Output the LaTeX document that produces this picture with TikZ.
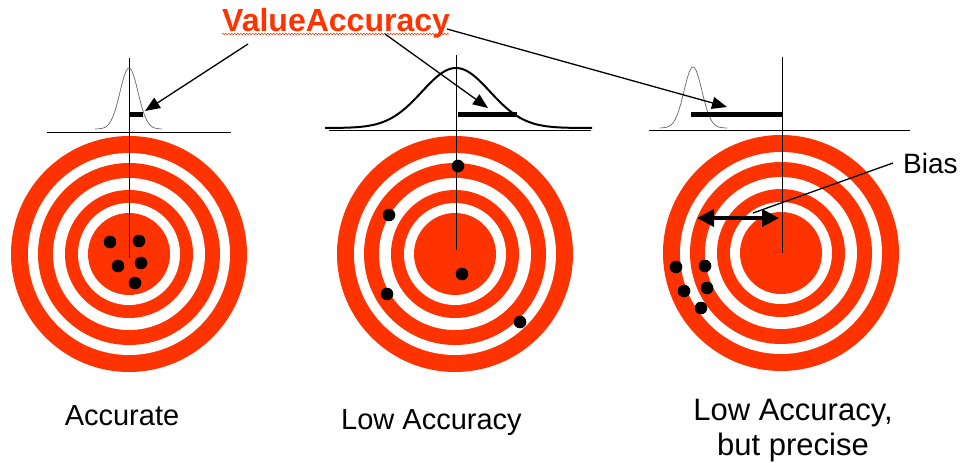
\documentclass[tikz,border=0pt]{standalone}
\usepackage{fontspec}
\setmainfont{Liberation Sans}
\usetikzlibrary{arrows.meta, decorations.pathmorphing}
\definecolor{targetred}{HTML}{FF3300}

% one target: rings from outside to inside
\newcommand{\drawtarget}[2]{%
  \foreach \r/\c in {118/targetred,101/white,91/targetred,76/white,64/targetred,51/white,41/targetred}
    \fill[\c] (#1,#2) circle[radius=\r];}

\tikzset{
  caption/.style={font=\fontsize{29}{35}\selectfont, inner sep=0pt},
  pointer/.style={line width=1.3pt, -{Triangle[length=15pt,width=12pt]}},
  errbar/.style={line width=5pt},
  hit/.style={fill=black},
  thincurve/.style={gray!80!black, line width=0.7pt},
}

\begin{document}
\begin{tikzpicture}[x=1pt, y=-1pt]
  \useasboundingbox (0,0) rectangle (962,463);

  % Targets
  \drawtarget{129}{254}
  \drawtarget{455}{254}
  \drawtarget{781}{253}

  % Axes and centre lines
  \draw[line width=0.8pt] (47,132) -- (231,132);
  \draw[line width=0.8pt] (329,130) -- (591,130);
  \draw[line width=0.8pt] (649,130) -- (910,130);
  \draw[line width=0.8pt] (129,58) -- (129,258);
  \draw[line width=0.8pt] (456,55) -- (456,250);
  \draw[line width=0.8pt] (782,57) -- (782,253);

  % Distributions
  \draw[thincurve] plot[domain=95:162, samples=80] (\x, {129-61*exp(-0.5*((\x-129)/9)^2)});
  \draw[line width=2pt] plot[domain=325:592, samples=120] (\x, {128-60*exp(-0.5*((\x-456)/34)^2)});
  \draw[thincurve] plot[domain=660:727, samples=80] (\x, {128-61*exp(-0.5*((\x-693)/9)^2)});

  % Bars
  \coordinate (t1) at (145,111);
  \coordinate (t2) at (488,108);
  \coordinate (t3) at (727,107);
  \draw[errbar] (129,114) -- (143,114);
  \draw[errbar] (458,114) -- (517,114);
  \draw[errbar] (691,114) -- (782,114);

  % Hits
  \foreach \px/\py in {110/242,139/241,118/266,141/263,135/283}
    \fill[hit] (\px,\py) circle[radius=6.3];
  \foreach \px/\py in {458/166,389/215,462/274,387/294,520/322}
    \fill[hit] (\px,\py) circle[radius=6.3];
  \foreach \px/\py in {676/267,705/266,684/291,707/288,701/308}
    \fill[hit] (\px,\py) circle[radius=6.3];

  % Title
  \node[anchor=base west, inner sep=0pt, text=targetred,
        font=\fontsize{32}{38}\selectfont\bfseries] (va) at (222,31) {ValueAccuracy};
  \draw[targetred, line width=0.5pt, decorate,
        decoration={zigzag, segment length=3pt, amplitude=0.8pt}]
    (va.base west) ++(0,3) -- ++(227,0);
  \coordinate (s1) at (248,44);
  \coordinate (s2) at (385,34);
  \coordinate (s3) at (447,29);
  \draw[pointer] (s1) -- (t1);
  \draw[pointer] (s2) -- (t2);
  \draw[pointer] (s3) -- (t3);

  % Bias
  \coordinate (bl) at (697,218);
  \coordinate (br) at (779,218);
  \draw[line width=4pt, {Triangle[length=17pt,width=17pt]}-{Triangle[length=17pt,width=17pt]}] (bl) -- (br);
  \node[caption, font=\fontsize{28}{34}\selectfont, anchor=base west] (bias) at (903,173) {Bias};
  \coordinate (bt) at (753,213);
  \draw[line width=1.3pt] (bias.west) ++(-10,0) -- (bt);

  % Captions
  \node[caption, anchor=base] (acc) at (122,425) {Accurate};
  \node[caption, anchor=base] (low) at (431.5,429) {Low Accuracy};
  \node[caption, font=\fontsize{31}{35}\selectfont, anchor=north, align=center] (prec) at (793,399) {Low Accuracy,\\but precise};
\end{tikzpicture}
\end{document}
